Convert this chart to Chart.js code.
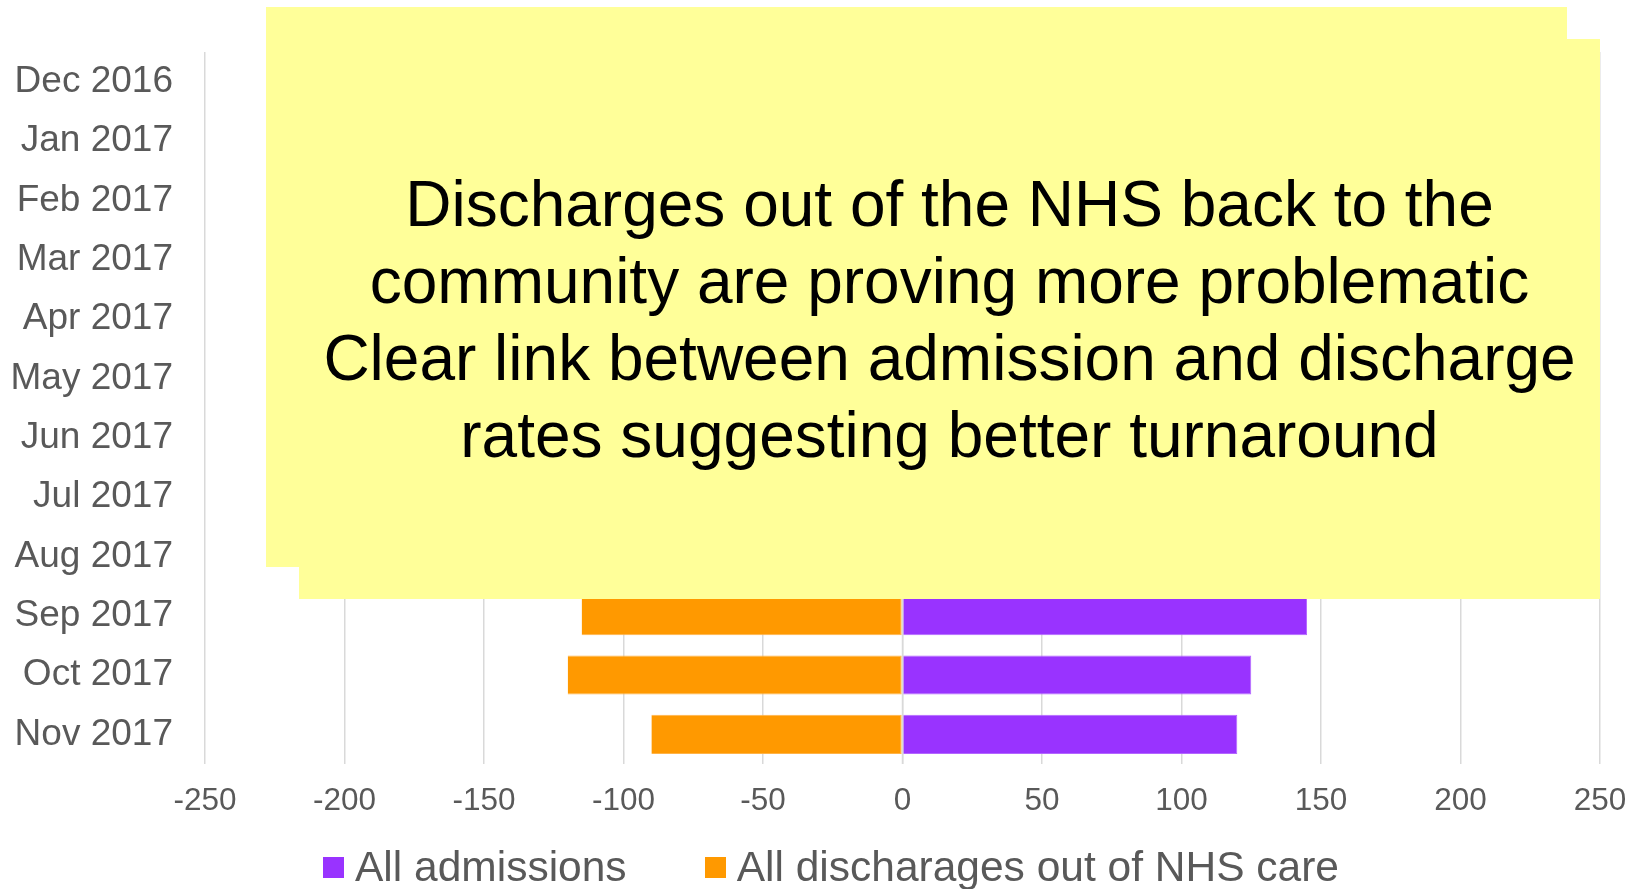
<!DOCTYPE html>
<html>
<head>
<meta charset="utf-8">
<script src="https://cdn.jsdelivr.net/npm/chart.js@4/dist/chart.umd.min.js"></script>
<style>
  html, body { margin: 0; padding: 0; background: #ffffff; }
  #wrap { position: relative; width: 1635px; height: 889px; overflow: hidden; font-family: "Liberation Sans", Arial, sans-serif; }
  #wrap canvas { position: absolute; left: 0; top: 0; }
  .note { position: absolute; background: #FFFF99; }
  #noteA { left: 266px; top: 7px; width: 1301px; height: 560px; }
  #noteB { left: 299px; top: 39px; width: 1301px; height: 560px; display: flex; align-items: center; justify-content: center; }
  #noteText { font-size: 64px; line-height: 1.2; color: #000000; text-align: center; white-space: nowrap; margin-top: 2px; }
  #legend { position: absolute; left: 323px; top: 846px; display: flex; align-items: center; gap: 78px; }
  .item { display: flex; align-items: center; gap: 11px; font-size: 42.5px; line-height: 1; color: #595959; white-space: nowrap; }
  .swatch { width: 21px; height: 21px; }
</style>
</head>
<body>
<div id="wrap">
  <canvas id="c" width="1635" height="889"></canvas>
  <div class="note" id="noteA"></div>
  <div class="note" id="noteB"><div id="noteText">Discharges out of the NHS back to the<br>community are proving more problematic<br>Clear link between admission and discharge<br>rates suggesting better turnaround</div></div>
  <div id="legend"></div>
</div>
<script>
// Categories (months), top to bottom
const months = ["Dec 2016", "Jan 2017", "Feb 2017", "Mar 2017", "Apr 2017", "May 2017",
                "Jun 2017", "Jul 2017", "Aug 2017", "Sep 2017", "Oct 2017", "Nov 2017"];
// Values hidden under the note box in the reference are unknown (null)
const allAdmissions = [null, null, null, null, null, null, null, null, null, 145, 125, 120];
const allDischarges = [null, null, null, null, null, null, null, null, null, -115, -120, -90];
const xTickMin = -250;
const xTickMax = 250;
const xTickStep = 50;
const seriesNames = ["All admissions", "All discharages out of NHS care"];
const seriesColors = ["#9933FF", "#FF9900"];

const zeroLine = {
  id: 'zeroLine',
  afterDatasetsDraw(chart) {
    const x = chart.scales.x.getPixelForValue(0);
    const {top, bottom} = chart.chartArea;
    const ctx = chart.ctx;
    ctx.save();
    ctx.strokeStyle = '#d9d9d9';
    ctx.lineWidth = 1.5;
    ctx.beginPath();
    ctx.moveTo(x, top);
    ctx.lineTo(x, bottom);
    ctx.stroke();
    ctx.restore();
  }
};

const chart = new Chart(document.getElementById('c'), {
  type: 'bar',
  data: {
    labels: months,
    datasets: [
      { label: seriesNames[0], data: allAdmissions, backgroundColor: seriesColors[0],
        borderColor: '#B366FF', borderWidth: 1, borderSkipped: 'left' },
      { label: seriesNames[1], data: allDischarges, backgroundColor: seriesColors[1],
        borderColor: '#FFB347', borderWidth: 1, borderSkipped: 'right' }
    ]
  },
  options: {
    indexAxis: 'y',
    responsive: false,
    animation: false,
    layout: { padding: { top: 52, right: 35, bottom: 0, left: 0 } },
    datasets: { bar: { barPercentage: 0.66, categoryPercentage: 1.0 } },
    plugins: { legend: { display: false }, tooltip: { enabled: false } },
    scales: {
      x: {
        stacked: true,
        min: xTickMin, max: xTickMax,
        ticks: { stepSize: xTickStep, padding: 18, color: '#595959',
                 font: { family: '"Liberation Sans", Arial, sans-serif', size: 31.5 } },
        grid: { color: '#d9d9d9', lineWidth: 1.5, drawTicks: false },
        border: { display: false },
        afterFit(scale) { scale.height = 125; scale.paddingLeft = 0; scale.paddingRight = 0; }
      },
      y: {
        stacked: true,
        ticks: { autoSkip: false, padding: 32, color: '#595959',
                 font: { family: '"Liberation Sans", Arial, sans-serif', size: 37 } },
        grid: { display: false, drawTicks: false },
        border: { display: false },
        afterFit(scale) { scale.width = 205; scale.paddingTop = 0; scale.paddingBottom = 0; }
      }
    }
  },
  plugins: [zeroLine]
});

// HTML legend built from the datasets
const legend = document.getElementById('legend');
chart.data.datasets.forEach(ds => {
  const item = document.createElement('div');
  item.className = 'item';
  const sw = document.createElement('div');
  sw.className = 'swatch';
  sw.style.background = ds.backgroundColor;
  const tx = document.createElement('span');
  tx.textContent = ds.label;
  item.appendChild(sw);
  item.appendChild(tx);
  legend.appendChild(item);
});
</script>
</body>
</html>
